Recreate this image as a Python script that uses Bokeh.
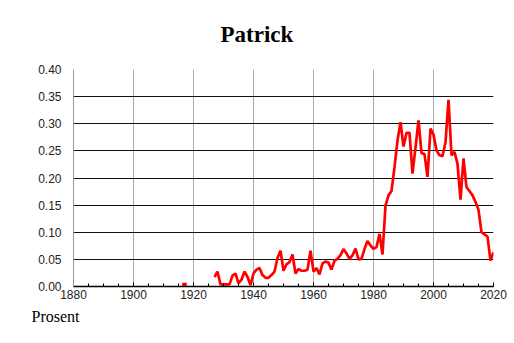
from bokeh.plotting import figure
from bokeh.models import Range1d, FixedTicker, NumeralTickFormatter, Title
from bokeh.embed import file_html
from bokeh.resources import INLINE

# Data (share of newborns named Patrick, %)
years = list(range(1927, 2021))
values = [
    0.0175, 0.0275, 0.004, 0.004, 0.004, 0.004, 0.020, 0.024, 0.006, 0.0125,  # 1927-1936
    0.0275, 0.0175, 0.0025, 0.024, 0.031, 0.034, 0.021, 0.016, 0.016, 0.021,  # 1937-1946
    0.0275, 0.0525, 0.066, 0.029, 0.041, 0.045, 0.059, 0.024, 0.0325, 0.029,  # 1947-1956
    0.029, 0.031, 0.066, 0.0275, 0.034, 0.0225, 0.0425, 0.046, 0.044, 0.031,  # 1957-1966
    0.0475, 0.051, 0.058, 0.069, 0.061, 0.051, 0.0575, 0.070, 0.050, 0.051,   # 1967-1976
    0.069, 0.084, 0.0756, 0.0695, 0.0726, 0.097, 0.059, 0.149, 0.168, 0.176,  # 1977-1986
    0.220, 0.269, 0.303, 0.258, 0.283, 0.283, 0.208, 0.256, 0.306, 0.246,     # 1987-1996
    0.244, 0.202, 0.291, 0.280, 0.251, 0.242, 0.240, 0.266, 0.344, 0.242,     # 1997-2006
    0.248, 0.226, 0.160, 0.236, 0.183, 0.176, 0.168, 0.156, 0.141, 0.100,     # 2007-2016
    0.096, 0.092, 0.048, 0.063,                                               # 2017-2020
]
isolated_years = [1917]
isolated_values = [0.003]

x_ticks = [1880, 1900, 1920, 1940, 1960, 1980, 2000, 2020]
x_minor = list(range(1880, 2021, 5))
y_ticks = [0.0, 0.05, 0.10, 0.15, 0.20, 0.25, 0.30, 0.35, 0.40]

p = figure(width=514, height=343, output_backend="svg", toolbar_location=None,
           x_range=Range1d(1880, 2020), y_range=Range1d(0, 0.4),
           min_border_left=73, min_border_right=21, min_border_top=69, min_border_bottom=57)
p.background_fill_color = "white"
p.border_fill_color = "white"
p.outline_line_color = None

p.line(years, values, line_color="#ff0000", line_width=2.7)
p.scatter(isolated_years, isolated_values, marker="square", size=3.5,
          fill_color="#ff0000", line_color="#ff0000")

# x axis
xa = p.xaxis[0]
xa.ticker = FixedTicker(ticks=x_ticks, minor_ticks=x_minor)
xa.major_tick_in = 4
xa.major_tick_out = 0
xa.minor_tick_in = 3
xa.minor_tick_out = 0
xa.axis_line_color = "#000000"
xa.axis_line_width = 1.5
xa.major_tick_line_color = "#000000"
xa.minor_tick_line_color = "#000000"
xa.major_label_text_font = "Liberation Sans"
xa.major_label_text_font_size = "12px"
xa.major_label_text_color = "#222222"
xa.major_label_standoff = 3

# y axis
ya = p.yaxis[0]
ya.ticker = FixedTicker(ticks=y_ticks)
ya.formatter = NumeralTickFormatter(format="0.00")
ya.major_tick_line_color = None
ya.minor_tick_line_color = None
ya.axis_line_color = "#999999"
ya.major_label_text_font = "Liberation Sans"
ya.major_label_text_font_size = "12px"
ya.major_label_text_color = "#222222"
ya.major_label_standoff = 6

# grids
p.xgrid.grid_line_color = "#aaaaaa"
p.xgrid.grid_line_width = 1
p.ygrid.grid_line_color = "#111111"
p.ygrid.grid_line_width = 1

# title
p.title = Title(text="Patrick", align="left", offset=147, vertical_align="top",
                text_font="Liberation Serif", text_font_size="23px",
                text_font_style="bold", text_color="#000000", standoff=42)

p.add_layout(Title(text="Prosent", align="left", offset=-42, standoff=8,
                   text_font="Liberation Serif", text_font_size="16px",
                   text_font_style="normal", text_color="#000000"), "below")

open("out.html", "w").write(file_html(p, INLINE))
